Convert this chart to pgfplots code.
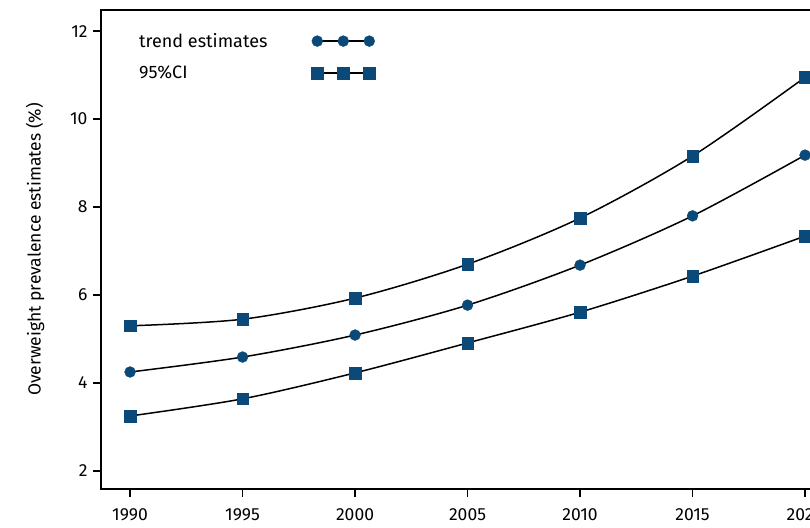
\documentclass[border=0pt]{standalone}
\usepackage{fontspec}
\setmainfont{Fira Sans}
\usepackage{pgfplots}
\pgfplotsset{compat=1.18}
\definecolor{mk}{HTML}{0B4A78}
\begin{document}
\begin{tikzpicture}
\begin{axis}[
  scale only axis,
  width=733pt, height=479pt,
  xmin=1988.71, xmax=2021.29,
  ymin=1.59, ymax=12.48,
  xtick={1990,1995,...,2020},
  ytick={2,4,...,12},
  xticklabel style={/pgf/number format/1000 sep={}},
  /pgf/number format/assume math mode=true,
  tick label style={font=\fontsize{17.5}{20}\selectfont},
  label style={font=\fontsize{17.5}{20}\selectfont},
  ylabel={Overweight prevalence estimates (\%)},
  ylabel style={yshift=19pt},
  tick align=outside,
  xtick pos=bottom, ytick pos=left,
  major tick length=8pt,
  every tick/.style={black, line width=1.5pt},
  axis line style={line width=1.8pt},
  xticklabel style={yshift=-8pt},
  yticklabel style={xshift=-2pt},
  legend plot pos=right,
  legend cell align=left,
  legend style={draw=none, fill=none, at={(rel axis cs:0.045,0.96)}, anchor=north west,
    font=\fontsize{18}{20}\selectfont, row sep=13pt, column sep=42pt},
  legend image code/.code={\draw[mark repeat=1,mark phase=1] plot coordinates {(0pt,0pt) (26pt,0pt) (52pt,0pt)};},
]
\addplot[smooth, black, line width=1.5pt, mark=*, mark size=5.5pt, mark options={fill=mk, draw=mk, line width=0.3pt}]
  coordinates {(1990,4.25) (1995,4.59) (2000,5.09) (2005,5.77) (2010,6.68) (2015,7.80) (2020,9.18)};
\addlegendentry{trend estimates}
\addplot[smooth, black, line width=1.5pt, mark=square*, mark size=5.8pt, mark options={fill=mk, draw=mk, line width=0.3pt}]
  coordinates {(1990,5.30) (1995,5.45) (2000,5.93) (2005,6.70) (2010,7.75) (2015,9.16) (2020,10.95)};
\addlegendentry{95\%CI}
\addplot[smooth, black, line width=1.5pt, mark=square*, mark size=5.8pt, mark options={fill=mk, draw=mk, line width=0.3pt}, forget plot]
  coordinates {(1990,3.25) (1995,3.64) (2000,4.23) (2005,4.91) (2010,5.61) (2015,6.43) (2020,7.34)};
\coordinate (BL) at (axis cs:1984.22,0.704);
\coordinate (TR) at (axis cs:2020.22,12.707);
\end{axis}
\pgfresetboundingbox
\path[use as bounding box] (BL) rectangle (TR);
\end{tikzpicture}
\end{document}
